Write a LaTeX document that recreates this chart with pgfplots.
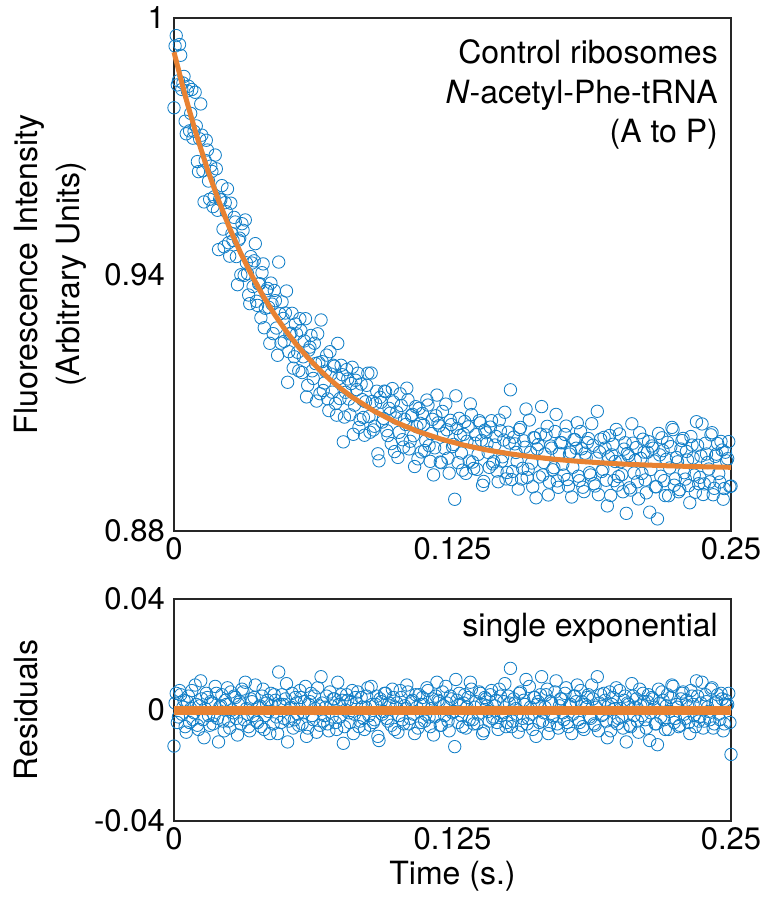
\documentclass[border=0pt]{standalone}
\usepackage{fontspec}
\setmainfont{TeX Gyre Heros}
\usepackage{pgfplots}
\usepackage{pgfplotstable}
\pgfplotsset{compat=1.18}
\definecolor{mblue}{RGB}{20,128,200}
\definecolor{morange}{RGB}{232,130,50}
\pgfplotstableread{
t y r
0.000 0.97900 -0.0130
0.001 0.99588 0.0060
0.002 0.98531 -0.0025
0.003 0.99128 0.0055
0.004 0.98480 0.0010
0.005 0.97586 -0.0060
0.006 0.98296 0.0030
0.007 0.97360 -0.0045
0.008 0.98328 0.0070
0.009 0.97350 -0.0010
0.010 0.97476 0.0020
0.011 0.96406 -0.0070
0.012 0.97990 0.0105
0.013 0.96427 -0.0035
0.014 0.96668 0.0005
0.015 0.96912 0.0045
0.016 0.95760 -0.0055
0.017 0.96411 0.0025
0.018 0.95815 -0.0020
0.019 0.96472 0.0060
0.020 0.94582 -0.0115
0.021 0.95746 0.0015
0.022 0.95062 -0.0040
0.023 0.95681 0.0035
0.024 0.96004 0.0080
0.025 0.94429 -0.0065
0.026 0.94956 0.0000
0.027 0.95336 0.0050
0.028 0.94419 -0.0030
0.029 0.94805 0.0020
0.030 0.93993 -0.0050
0.031 0.95033 0.0065
0.032 0.95276 0.0100
0.033 0.94021 -0.0015
0.034 0.93318 -0.0075
0.035 0.94268 0.0030
0.036 0.94320 0.0045
0.037 0.93374 -0.0040
0.038 0.93780 0.0010
0.039 0.92988 -0.0060
0.040 0.94248 0.0075
0.041 0.93210 -0.0020
0.042 0.93674 0.0035
0.043 0.92390 -0.0085
0.044 0.93307 0.0015
0.045 0.93627 0.0055
0.046 0.92748 -0.0025
0.047 0.94291 0.0137
0.048 0.92395 -0.0045
0.049 0.92972 0.0020
0.050 0.93099 0.0040
0.051 0.91479 -0.0115
0.052 0.92610 0.0005
0.053 0.93092 0.0060
0.054 0.92076 -0.0035
0.055 0.92611 0.0025
0.056 0.91748 -0.0055
0.057 0.92686 0.0045
0.058 0.92075 -0.0010
0.059 0.92966 0.0085
0.060 0.91408 -0.0065
0.061 0.92302 0.0030
0.062 0.91746 -0.0020
0.063 0.92392 0.0050
0.064 0.91039 -0.0080
0.065 0.91937 0.0015
0.066 0.92936 0.0120
0.067 0.91286 -0.0040
0.068 0.91738 0.0010
0.069 0.91090 -0.0050
0.070 0.92194 0.0065
0.071 0.91248 -0.0025
0.072 0.91854 0.0040
0.073 0.90710 -0.0070
0.074 0.91567 0.0020
0.075 0.91876 0.0055
0.076 0.90085 -0.0120
0.077 0.91245 0.0000
0.078 0.91556 0.0035
0.079 0.90718 -0.0045
0.080 0.91830 0.0070
0.081 0.90944 -0.0015
0.082 0.91308 0.0025
0.083 0.90423 -0.0060
0.084 0.91439 0.0045
0.085 0.90656 -0.0030
0.086 0.91023 0.0010
0.087 0.91691 0.0080
0.088 0.90310 -0.0055
0.089 0.91029 0.0020
0.090 0.90449 -0.0035
0.091 0.91270 0.0050
0.092 0.89641 -0.0110
0.093 0.91013 0.0030
0.094 0.90635 -0.0005
0.095 0.91258 0.0060
0.096 0.90232 -0.0040
0.097 0.90756 0.0015
0.098 0.91331 0.0075
0.099 0.89857 -0.0070
0.100 0.90783 0.0025
0.101 0.90309 -0.0020
0.102 0.90936 0.0045
0.103 0.89963 -0.0050
0.104 0.90491 0.0005
0.105 0.91070 0.0065
0.106 0.90099 -0.0030
0.107 0.90728 0.0035
0.108 0.89508 -0.0085
0.109 0.90438 0.0010
0.110 0.90869 0.0055
0.111 0.89850 -0.0045
0.112 0.90482 0.0020
0.113 0.90114 -0.0015
0.114 0.90946 0.0070
0.115 0.89629 -0.0060
0.116 0.90612 0.0040
0.117 0.89945 -0.0025
0.118 0.91179 0.0100
0.119 0.90463 0.0030
0.120 0.89598 -0.0055
0.121 0.90283 0.0015
0.122 0.90968 0.0085
0.123 0.89703 -0.0040
0.124 0.90589 0.0050
0.125 0.89975 -0.0010
0.126 0.88742 -0.0132
0.127 0.90398 0.0035
0.128 0.90635 0.0060
0.129 0.89823 -0.0020
0.130 0.90260 0.0025
0.131 0.89348 -0.0065
0.132 0.90436 0.0045
0.133 0.90974 0.0100
0.134 0.89613 -0.0035
0.135 0.90052 0.0010
0.136 0.89441 -0.0050
0.137 0.90580 0.0065
0.138 0.90120 0.0020
0.139 0.89159 -0.0075
0.140 0.90299 0.0040
0.141 0.89839 -0.0005
0.142 0.90430 0.0055
0.143 0.89570 -0.0030
0.144 0.90011 0.0015
0.145 0.89402 -0.0045
0.146 0.90594 0.0075
0.147 0.89635 -0.0020
0.148 0.90127 0.0030
0.149 0.89219 -0.0060
0.150 0.90311 0.0050
0.151 0.91303 0.0150
0.152 0.89395 -0.0040
0.153 0.90038 0.0025
0.154 0.89630 -0.0015
0.155 0.90373 0.0060
0.156 0.89216 -0.0055
0.157 0.90109 0.0035
0.158 0.90853 0.0110
0.159 0.89446 -0.0030
0.160 0.89840 0.0010
0.161 0.89034 -0.0070
0.162 0.90177 0.0045
0.163 0.89921 0.0020
0.164 0.89265 -0.0045
0.165 0.90910 0.0120
0.166 0.89604 -0.0010
0.167 0.90248 0.0055
0.168 0.88843 -0.0085
0.169 0.89988 0.0030
0.170 0.89432 -0.0025
0.171 0.90327 0.0065
0.172 0.89172 -0.0050
0.173 0.89818 0.0015
0.174 0.90063 0.0040
0.175 0.89308 -0.0035
0.176 0.90454 0.0080
0.177 0.89049 -0.0060
0.178 0.89845 0.0020
0.179 0.89490 -0.0015
0.180 0.90136 0.0050
0.181 0.90532 0.0090
0.182 0.89178 -0.0045
0.183 0.89924 0.0030
0.184 0.88921 -0.0070
0.185 0.89717 0.0010
0.186 0.90163 0.0055
0.187 0.89310 -0.0030
0.188 0.90006 0.0040
0.189 0.89053 -0.0055
0.190 0.90800 0.0120
0.191 0.89847 0.0025
0.192 0.89393 -0.0020
0.193 0.90190 0.0060
0.194 0.89187 -0.0040
0.195 0.89734 0.0015
0.196 0.88831 -0.0075
0.197 0.90028 0.0045
0.198 0.89626 0.0005
0.199 0.89073 -0.0050
0.200 0.90270 0.0070
0.201 0.89318 -0.0025
0.202 0.89915 0.0035
0.203 0.88413 -0.0115
0.204 0.89760 0.0020
0.205 0.88958 -0.0060
0.206 0.90055 0.0050
0.207 0.89653 0.0010
0.208 0.89151 -0.0040
0.209 0.90299 0.0075
0.210 0.89347 -0.0020
0.211 0.89845 0.0030
0.212 0.88893 -0.0065
0.213 0.90091 0.0055
0.214 0.89439 -0.0010
0.215 0.89937 0.0040
0.216 0.89035 -0.0050
0.217 0.88283 -0.0125
0.218 0.89781 0.0025
0.219 0.90180 0.0065
0.220 0.89178 -0.0035
0.221 0.89676 0.0015
0.222 0.88825 -0.0070
0.223 0.89973 0.0045
0.224 0.90371 0.0085
0.225 0.89220 -0.0030
0.226 0.89618 0.0010
0.227 0.88967 -0.0055
0.228 0.90115 0.0060
0.229 0.89364 -0.0015
0.230 0.89862 0.0035
0.231 0.89061 -0.0045
0.232 0.90210 0.0070
0.233 0.89708 0.0020
0.234 0.88907 -0.0060
0.235 0.90006 0.0050
0.236 0.89255 -0.0025
0.237 0.90504 0.0100
0.238 0.89102 -0.0040
0.239 0.89801 0.0030
0.240 0.89450 -0.0005
0.241 0.90249 0.0075
0.242 0.88848 -0.0065
0.243 0.89747 0.0025
0.244 0.90046 0.0055
0.245 0.89145 -0.0035
0.246 0.89894 0.0040
0.247 0.88993 -0.0050
0.248 0.89642 0.0015
0.249 0.90091 0.0060
0.250 0.89050 -0.0160
}\datatable
\pgfplotstableread{
t y r
0.0005 0.99344 0.0025
0.0015 0.98435 -0.0045
0.0025 0.99380 0.0070
0.0035 0.98329 -0.0015
0.0045 0.98633 0.0035
0.0055 0.97291 -0.0080
0.0065 0.98403 0.0050
0.0075 0.97769 0.0005
0.0085 0.97189 -0.0035
0.0095 0.98263 0.0090
0.0105 0.96641 -0.0055
0.0115 0.97173 0.0015
0.0125 0.97259 0.0040
0.0135 0.95698 -0.0100
0.0145 0.97140 0.0060
0.0155 0.96186 -0.0020
0.0165 0.96536 0.0030
0.0175 0.95588 -0.0050
0.0185 0.96794 0.0085
0.0195 0.95502 -0.0030
0.0205 0.95764 0.0010
0.0215 0.96079 0.0055
0.0225 0.94647 -0.0075
0.0235 0.95468 0.0020
0.0245 0.94742 -0.0040
0.0255 0.95668 0.0065
0.0265 0.94796 -0.0010
0.0275 0.95228 0.0045
0.0285 0.93762 -0.0090
0.0295 0.94849 0.0030
0.0305 0.95188 0.0075
0.0315 0.93980 -0.0035
0.0325 0.94274 0.0005
0.0335 0.93520 -0.0060
0.0345 0.94418 0.0040
0.0355 0.93719 -0.0020
0.0365 0.94722 0.0090
0.0375 0.93277 -0.0045
0.0385 0.93784 0.0015
0.0395 0.94043 0.0050
0.0405 0.92754 -0.0070
0.0415 0.93617 0.0025
0.0425 0.93232 -0.0005
0.0435 0.93799 0.0060
0.0445 0.92617 -0.0050
0.0455 0.93388 0.0035
0.0465 0.92110 -0.0085
0.0475 0.93083 0.0020
0.0485 0.93359 0.0055
0.0495 0.92436 -0.0030
0.0505 0.93614 0.0095
0.0515 0.92195 -0.0040
0.0525 0.92626 0.0010
0.0535 0.91809 -0.0065
0.0545 0.92844 0.0045
0.0555 0.92180 -0.0015
0.0565 0.92967 0.0070
0.0575 0.91706 -0.0050
0.0585 0.92446 0.0030
0.0595 0.91137 -0.0095
0.0605 0.92230 0.0020
0.0615 0.92574 0.0060
0.0625 0.91569 -0.0035
0.0635 0.91916 0.0005
0.0645 0.92613 0.0080
0.0655 0.91212 -0.0055
0.0665 0.91961 0.0025
0.0675 0.91462 -0.0020
0.0685 0.92114 0.0050
0.0695 0.90817 -0.0075
0.0705 0.91671 0.0015
0.0715 0.91876 0.0040
0.0725 0.90982 -0.0045
0.0735 0.92389 0.0100
0.0745 0.91097 -0.0025
0.0755 0.91656 0.0035
0.0765 0.90665 -0.0060
0.0775 0.91776 0.0055
0.0785 0.91087 -0.0010
0.0795 0.91449 0.0030
0.0805 0.90262 -0.0085
0.0815 0.91526 0.0045
0.0825 0.91691 0.0065
0.0835 0.90606 -0.0040
0.0845 0.91073 0.0010
0.0855 0.90240 -0.0070
0.0865 0.91407 0.0050
0.0875 0.90676 -0.0020
0.0885 0.91695 0.0085
0.0895 0.90364 -0.0045
0.0905 0.90985 0.0020
0.0915 0.89806 -0.0095
0.0925 0.91127 0.0040
0.0935 0.90549 -0.0015
0.0945 0.91272 0.0060
0.0955 0.90345 -0.0030
0.0965 0.90869 0.0025
0.0975 0.90044 -0.0055
0.0985 0.91019 0.0045
0.0995 0.90645 0.0010
0.1005 0.89721 -0.0080
0.1015 0.91209 0.0070
0.1025 0.90136 -0.0035
0.1035 0.90613 0.0015
0.1045 0.91341 0.0090
0.1055 0.89920 -0.0050
0.1065 0.90699 0.0030
0.1075 0.90228 -0.0015
0.1085 0.90908 0.0055
0.1095 0.89688 -0.0065
0.1105 0.90519 0.0020
0.1115 0.90750 0.0045
0.1125 0.89882 -0.0040
0.1135 0.91064 0.0080
0.1145 0.89996 -0.0025
0.1155 0.90279 0.0005
0.1165 0.89312 -0.0090
0.1175 0.90695 0.0050
0.1185 0.90529 0.0035
0.1195 0.89613 -0.0055
0.1205 0.90798 0.0065
0.1215 0.89933 -0.0020
0.1225 0.90368 0.0025
0.1235 0.89353 -0.0075
0.1245 0.90489 0.0040
0.1255 0.90025 -0.0005
0.1265 0.91162 0.0110
0.1275 0.89598 -0.0045
0.1285 0.90235 0.0020
0.1295 0.89423 -0.0060
0.1305 0.90560 0.0055
0.1315 0.90098 0.0010
0.1325 0.89636 -0.0035
0.1335 0.90724 0.0075
0.1345 0.89463 -0.0050
0.1355 0.90252 0.0030
0.1365 0.89791 -0.0015
0.1375 0.90530 0.0060
0.1385 0.89070 -0.0085
0.1395 0.90359 0.0045
0.1405 0.90049 0.0015
0.1415 0.89489 -0.0040
0.1425 0.90580 0.0070
0.1435 0.89620 -0.0025
0.1445 0.90211 0.0035
0.1455 0.89152 -0.0070
0.1465 0.90344 0.0050
0.1475 0.89735 -0.0010
0.1485 0.90777 0.0095
0.1495 0.89369 -0.0045
0.1505 0.90061 0.0025
0.1515 0.89203 -0.0060
0.1525 0.90195 0.0040
0.1535 0.89838 0.0005
0.1545 0.88980 -0.0080
0.1555 0.90423 0.0065
0.1565 0.89466 -0.0030
0.1575 0.89959 0.0020
0.1585 0.89253 -0.0050
0.1595 0.90596 0.0085
0.1605 0.89590 -0.0015
0.1615 0.90184 0.0045
0.1625 0.88777 -0.0095
0.1635 0.90021 0.0030
0.1645 0.90265 0.0055
0.1655 0.89310 -0.0040
0.1665 0.89804 0.0010
0.1675 0.90448 0.0075
0.1685 0.89143 -0.0055
0.1695 0.89938 0.0025
0.1705 0.89482 -0.0020
0.1715 0.90727 0.0105
0.1725 0.89022 -0.0065
0.1735 0.90068 0.0040
0.1745 0.89563 -0.0010
0.1755 0.90258 0.0060
0.1765 0.89204 -0.0045
0.1775 0.89799 0.0015
0.1785 0.88795 -0.0085
0.1795 0.90140 0.0050
0.1805 0.89936 0.0030
0.1815 0.89282 -0.0035
0.1825 0.90328 0.0070
0.1835 0.89024 -0.0060
0.1845 0.89821 0.0020
0.1855 0.90067 0.0045
0.1865 0.89363 -0.0025
0.1875 0.90510 0.0090
0.1885 0.89106 -0.0050
0.1895 0.89703 0.0010
0.1905 0.88850 -0.0075
0.1915 0.90147 0.0055
0.1925 0.89443 -0.0015
0.1935 0.89940 0.0035
0.1945 0.88587 -0.0100
0.1955 0.90234 0.0065
0.1965 0.89781 0.0020
0.1975 0.89178 -0.0040
0.1985 0.90376 0.0080
0.1995 0.89273 -0.0030
0.2005 0.89620 0.0005
0.2015 0.88918 -0.0065
0.2025 0.90065 0.0050
0.2035 0.89813 0.0025
0.2045 0.89010 -0.0055
0.2055 0.90508 0.0095
0.2065 0.89355 -0.0020
0.2075 0.89953 0.0040
0.2085 0.88751 -0.0080
0.2095 0.89699 0.0015
0.2105 0.90147 0.0060
0.2115 0.89195 -0.0035
0.2125 0.89843 0.0030
0.2135 0.88441 -0.0110
0.2145 0.89989 0.0045
0.2155 0.89637 0.0010
0.2165 0.89035 -0.0050
0.2175 0.90283 0.0075
0.2185 0.89281 -0.0025
0.2195 0.89880 0.0035
0.2205 0.88828 -0.0070
0.2215 0.90076 0.0055
0.2225 0.89475 -0.0005
0.2235 0.90423 0.0090
0.2245 0.89071 -0.0045
0.2255 0.89720 0.0020
0.2265 0.88918 -0.0060
0.2275 0.89917 0.0040
0.2285 0.90165 0.0065
0.2295 0.89214 -0.0030
0.2305 0.89662 0.0015
0.2315 0.88661 -0.0085
0.2325 0.90010 0.0050
0.2335 0.89308 -0.0020
0.2345 0.90557 0.0105
0.2355 0.89106 -0.0040
0.2365 0.89755 0.0025
0.2375 0.88854 -0.0065
0.2385 0.90052 0.0055
0.2395 0.89601 0.0010
0.2405 0.89150 -0.0035
0.2415 0.90299 0.0080
0.2425 0.88998 -0.0050
0.2435 0.89797 0.0030
0.2445 0.89346 -0.0015
0.2455 0.90095 0.0060
0.2465 0.88744 -0.0075
0.2475 0.89843 0.0035
0.2485 0.89692 0.0020
0.2495 0.89041 -0.0045
}\datatableb
\pgfplotstableread{
t f
0.000 0.99200
0.005 0.98185
0.010 0.97276
0.015 0.96462
0.020 0.95732
0.025 0.95079
0.030 0.94493
0.035 0.93968
0.040 0.93497
0.045 0.93076
0.050 0.92699
0.055 0.92360
0.060 0.92058
0.065 0.91787
0.070 0.91543
0.075 0.91326
0.080 0.91130
0.090 0.90799
0.100 0.90532
0.110 0.90319
0.120 0.90148
0.130 0.90010
0.140 0.89899
0.150 0.89811
0.160 0.89740
0.170 0.89682
0.180 0.89636
0.190 0.89600
0.200 0.89570
0.210 0.89547
0.220 0.89528
0.230 0.89512
0.240 0.89500
0.250 0.89490
}\fittable
\pgfplotsset{
  myaxis/.style={
    scale only axis, width=557pt, xmin=0, xmax=0.25,
    xtick={0,0.125,0.25}, xticklabels={0,0.125,0.25},
    major tick length=0pt, clip=false, clip marker paths=true,
    scaled y ticks=false, scaled x ticks=false,
    axis line style={line width=1.1pt, draw=black!85},
    /pgf/number format/assume math mode=true,
    tick label style={font=\fontsize{31}{37}\selectfont},
    label style={font=\fontsize{32}{42}\selectfont},
    xticklabel style={inner ysep=6pt},
    yticklabel style={inner xsep=9pt},
  },
  mydots/.style={only marks, mark=o, mark size=6.2pt, draw=mblue, mark options={line width=0.85pt, draw=mblue}},
}
\begin{document}
\fontsize{32}{42}\selectfont
\begin{tikzpicture}
\begin{axis}[myaxis, name=top, at={(0,0)}, anchor=south west, height=513pt,
  ymin=0.88, ymax=1, ytick={0.88,0.94,1}, yticklabels={0.88,0.94,1},
  ylabel={Fluorescence Intensity\\(Arbitrary Units)},
  ylabel style={align=center, at={(axis description cs:-0.2873,0.5)}, anchor=north, inner sep=0pt},
]
\addplot[mydots] table[x=t,y=y]{\datatable};
\addplot[mydots] table[x=t,y=y]{\datatableb};
\addplot[draw=morange, line width=5pt, mark=none] table[x=t,y=f]{\fittable};
\node[anchor=base east, inner sep=0pt, xshift=-13pt, yshift=-46pt] at (rel axis cs:1,1) {Control ribosomes};
\node[anchor=base east, inner sep=0pt, xshift=-13pt, yshift=-86pt] at (rel axis cs:1,1) {\textit{N}-acetyl-Phe-tRNA};
\node[anchor=base east, inner sep=0pt, xshift=-13pt, yshift=-125pt] at (rel axis cs:1,1) {(A to P)};
\end{axis}
\begin{axis}[myaxis, at={(0,-68pt)}, anchor=north west, height=222pt,
  ymin=-0.04, ymax=0.04, ytick={-0.04,0,0.04}, yticklabels={-0.04,0,0.04},
  ylabel={Residuals},
  ylabel style={at={(axis description cs:-0.2873,0.5)}, anchor=north, inner sep=0pt},
  xlabel={Time (s.)},
  xlabel style={at={(axis description cs:0.5,-0.18)}, anchor=north, inner sep=0pt},
]
\addplot[mydots] table[x=t,y=r]{\datatable};
\addplot[mydots] table[x=t,y=r]{\datatableb};
\addplot[draw=morange, line width=9pt, mark=none] coordinates {(0,0) (0.25,0)};
\node[anchor=base east, inner sep=0pt, xshift=-13pt, yshift=-37pt] at (rel axis cs:1,1) {single exponential};
\end{axis}
\pgfresetboundingbox
\useasboundingbox (-174pt,531pt) rectangle (601pt,-366pt);
\end{tikzpicture}
\end{document}
